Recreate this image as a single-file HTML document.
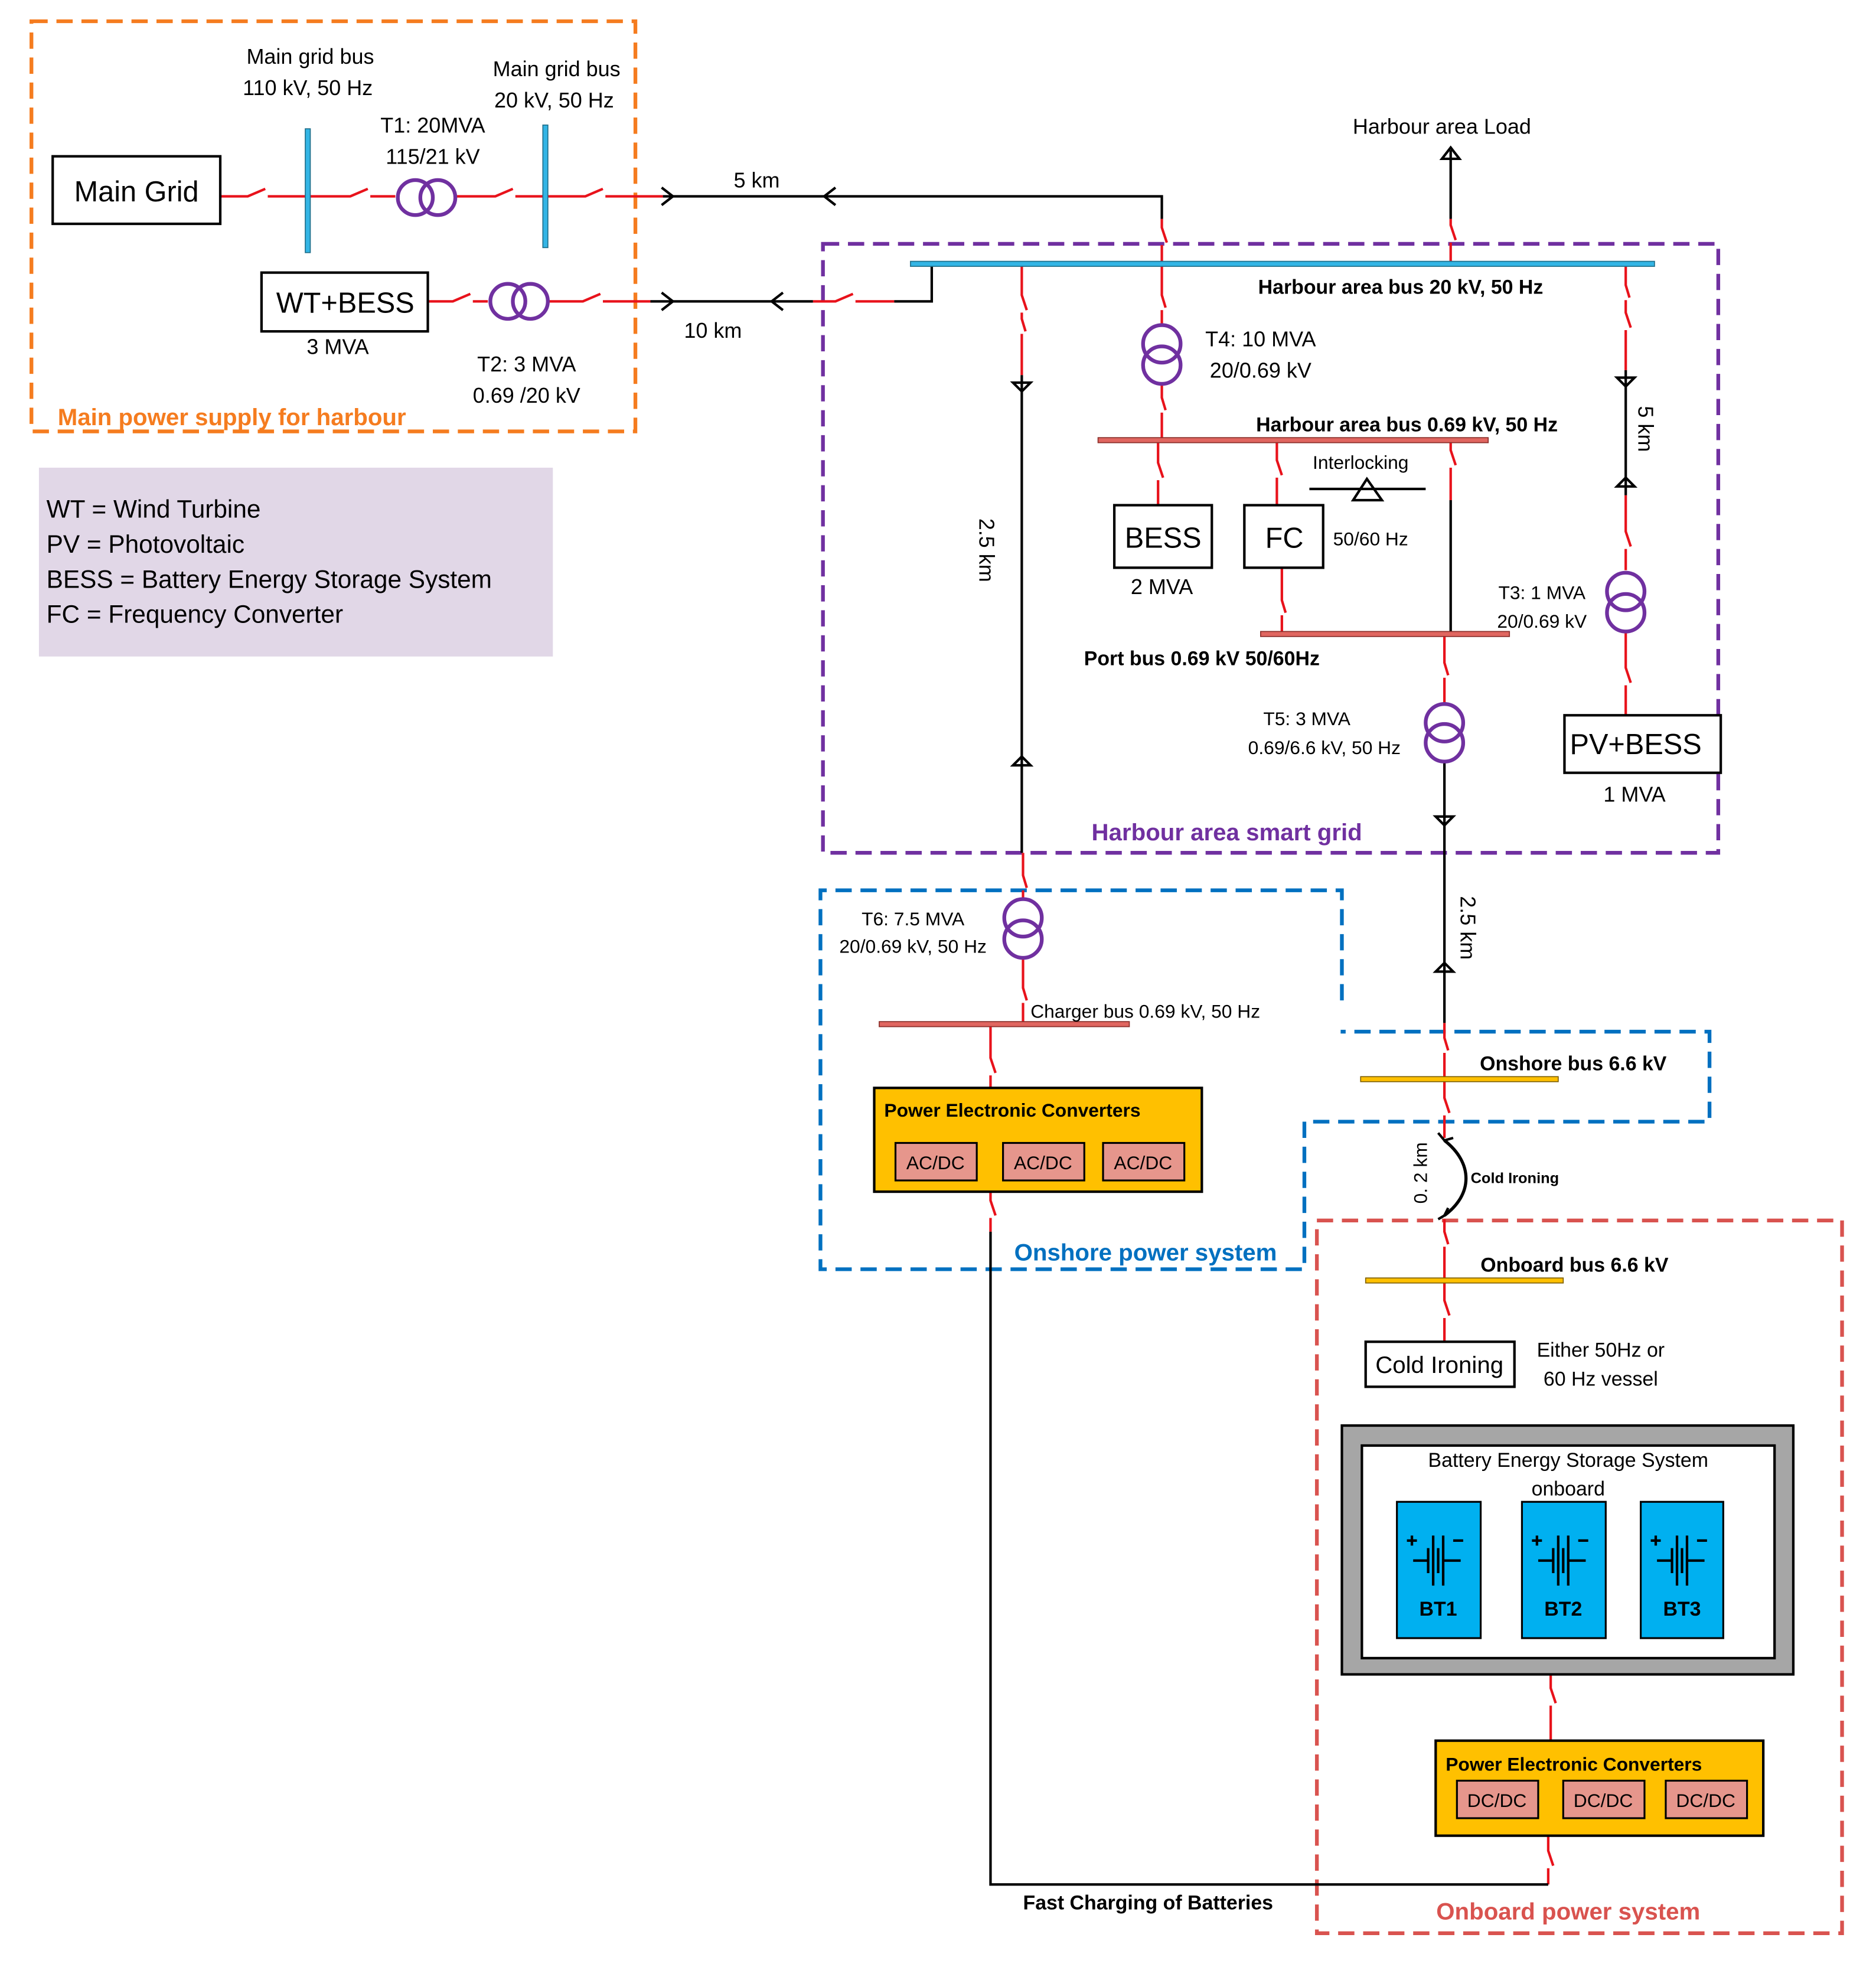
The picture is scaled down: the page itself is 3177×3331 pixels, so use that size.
<!DOCTYPE html>
<html><head><meta charset="utf-8"><style>
html,body{margin:0;padding:0;background:#fff}
svg{display:block}
text{font-family:"Liberation Sans",sans-serif}
</style></head><body>
<svg width="3177" height="3331" viewBox="0 0 1500 1573" xmlns="http://www.w3.org/2000/svg">
<rect width="1500" height="1573" fill="#fff"/>
<g fill="none" stroke-width="3" stroke-dasharray="13,7">
<rect x="25" y="17" width="483" height="328" stroke="#f57c1f"/>
<rect x="658" y="195" width="716" height="487" stroke="#7030a0"/>
<path d="M1073 800 V712 H656 V1015 H1043 V897 H1367 V825 H1072" stroke="#0070c0"/>
<rect x="1053" y="976" width="420" height="570" stroke="#d9534f"/>
</g>
<rect x="31" y="374" width="411" height="151" fill="#e1d7e7"/>
<g font-size="20" fill="#000">
<text x="37" y="414">WT = Wind Turbine</text>
<text x="37" y="442">PV = Photovoltaic</text>
<text x="37" y="470">BESS = Battery Energy Storage System</text>
<text x="37" y="498">FC = Frequency Converter</text>
</g>
<g stroke="#e8121b" stroke-width="2" fill="none">
<path d="M176 157 H198 l14 -6 M214 157 H280 l14 -6 M296 157 H316 M365 157 H396 l14 -6 M412 157 H468 l14 -6 M484 157 H530"/>
<path d="M342 241 H362 l14 -6 M378 241 H390 M438 241 H466 l14 -6 M482 241 H520"/>
<path d="M650 241 H668 l14 -6 M684 241 H715"/>
<path d="M929 175 V182 l4 12 M929 196 V211 V236 l3 10 M929 248 V260"/>
<path d="M929 307 V318 l3 10 M929 330 V352"/>
<path d="M1160 175 V180 l4 12 M1160 194 V211"/>
<path d="M817 211 V236 l4 12 M817 250 V255 l3 10 M817 267 V300"/>
<path d="M926 352 V370 l4 12 M926 384 V404"/>
<path d="M1021 352 V368 l4 12 M1021 382 V404"/>
<path d="M1025 454 V480 l3 10 M1025 492 V507"/>
<path d="M1160 352 V360 l4 12 M1160 374 V400"/>
<path d="M1155 507 V530 l3 10 M1155 542 V563"/>
<path d="M1300 211 V228 l3 10 M1300 240 V250 l4 12 M1300 264 V296"/>
<path d="M1300 396 V425 l4 12 M1300 439 V456"/>
<path d="M1300 506 V534 l4 12 M1300 548 V572"/>
<path d="M818 682 V700 l3 10 M818 712 V718"/>
<path d="M818 767 V790 l3 10 M818 802 V819"/>
<path d="M792 819 V846 l4 12 M792 860 V870"/>
<path d="M792 953 V960 l4 12 M792 974 V985"/>
<path d="M1155 818 V830 l3 10 M1155 842 V863 V878 l4 12 M1155 892 V910"/>
<path d="M1155 975 V985 l3 10 M1155 997 V1024 V1040 l4 12 M1155 1054 V1073"/>
<path d="M1240 1339 V1350 l4 12 M1240 1364 V1392"/>
<path d="M1238 1468 V1480 l4 12 M1238 1494 V1507"/>
</g>
<g stroke="#000" stroke-width="2" fill="none">
<path d="M530 157 H929 V175"/>
<path d="M520 241 H650 M715 241 H745 V211"/>
<path d="M1160 175 V120"/>
<path d="M817 300 V682"/>
<path d="M1160 400 V507"/>
<path d="M1155 610 V818"/>
<path d="M1300 296 V396"/>
<path d="M792 985 V1507 H1238"/>
<path d="M1047 391 H1140"/>
<path d="M1082 400 L1093 383 L1105 400 Z"/>
<path d="M529 150 L538 157 L529 164 M529 234 L538 241 L529 248"/>
<path d="M668 150 L659 157 L668 164 M626 234 L617 241 L626 248"/>
<path d="M1153 127 L1160 118 L1167 127 Z"/>
<path d="M810 306 L817 313 L824 306 Z M810 612 L817 605 L824 612 Z"/>
<path d="M1293 302 L1300 309 L1307 302 Z M1293 389 L1300 382 L1307 389 Z"/>
<path d="M1148 653 L1155 660 L1162 653 Z M1148 777 L1155 770 L1162 777 Z"/>
<path d="M1155 912 C1178 930 1178 955 1155 972" stroke-width="2.5"/>
<path d="M1150 906 L1155 912 L1162 910 M1150 975 L1155 972 L1158 966"/>
</g>
<g fill="#33b5e5" stroke="#1f6f8b" stroke-width="0.8">
<rect x="244" y="103" width="4" height="99"/>
<rect x="434" y="100" width="4" height="98"/>
<rect x="728" y="209" width="595" height="4"/>
</g>
<g fill="#e06660" stroke="#8b2e2a" stroke-width="0.8">
<rect x="878" y="350" width="312" height="4"/>
<rect x="1008" y="505" width="199" height="4"/>
<rect x="703" y="817" width="200" height="4"/>
</g>
<g fill="#ffc000" stroke="#7f6000" stroke-width="0.8">
<rect x="1088" y="861" width="158" height="4"/>
<rect x="1092" y="1022" width="158" height="4"/>
</g>
<g fill="none" stroke="#7030a0" stroke-width="3">
<circle cx="332" cy="158" r="14"/><circle cx="350" cy="158" r="14"/>
<circle cx="406" cy="241" r="14"/><circle cx="424" cy="241" r="14"/>
<circle cx="929" cy="275" r="15"/><circle cx="929" cy="292" r="15"/>
<circle cx="1155" cy="578" r="15"/><circle cx="1155" cy="594" r="15"/>
<circle cx="1300" cy="473" r="15"/><circle cx="1300" cy="490" r="15"/>
<circle cx="818" cy="734" r="15"/><circle cx="818" cy="751" r="15"/>
</g>
<g fill="#fff" stroke="#000" stroke-width="2">
<rect x="42" y="125" width="134" height="54"/>
<rect x="209" y="218" width="133" height="47"/>
<rect x="891" y="404" width="78" height="50"/>
<rect x="995" y="404" width="63" height="50"/>
<rect x="1251" y="572" width="125" height="46"/>
<rect x="1092" y="1073" width="119" height="36"/>
</g>
<rect x="699" y="870" width="262" height="83" fill="#ffc000" stroke="#000" stroke-width="2"/>
<rect x="1148" y="1392" width="262" height="76" fill="#ffc000" stroke="#000" stroke-width="2"/>
<g fill="#e6968c" stroke="#000" stroke-width="1.5">
<rect x="716" y="914" width="65" height="30"/><rect x="802" y="914" width="65" height="30"/><rect x="882" y="914" width="65" height="30"/>
<rect x="1165" y="1424" width="65" height="30"/><rect x="1250" y="1424" width="65" height="30"/><rect x="1332" y="1424" width="65" height="30"/>
</g>
<rect x="1073" y="1140" width="361" height="199" fill="#a6a6a6" stroke="#000" stroke-width="2"/>
<rect x="1089" y="1156" width="330" height="170" fill="#fff" stroke="#000" stroke-width="2"/>
<g fill="#00b0f0" stroke="#000" stroke-width="1.5">
<rect x="1117" y="1201" width="67" height="109"/><rect x="1217" y="1201" width="67" height="109"/><rect x="1312" y="1201" width="66" height="109"/>
</g>
<g stroke="#000" stroke-width="2" fill="none">
<path d="M1130 1248 H1142 M1142 1238 V1258 M1146 1228 V1268 M1150 1238 V1258 M1154 1228 V1268 M1154 1248 H1168 M1125 1232 H1133 M1129 1228 V1236 M1162 1232 H1170"/>
<path d="M1230 1248 H1242 M1242 1238 V1258 M1246 1228 V1268 M1250 1238 V1258 M1254 1228 V1268 M1254 1248 H1268 M1225 1232 H1233 M1229 1228 V1236 M1262 1232 H1270"/>
<path d="M1325 1248 H1337 M1337 1238 V1258 M1341 1228 V1268 M1345 1238 V1258 M1349 1228 V1268 M1349 1248 H1363 M1320 1232 H1328 M1324 1228 V1236 M1357 1232 H1365"/>
</g>
<g font-size="16" font-weight="bold" text-anchor="middle">
<text x="1150" y="1292">BT1</text><text x="1250" y="1292">BT2</text><text x="1345" y="1292">BT3</text>
</g>
<g font-size="23" text-anchor="middle">
<text x="109" y="161">Main Grid</text>
<text x="276" y="250">WT+BESS</text>
<text x="930" y="438">BESS</text>
<text x="1027" y="438">FC</text>
<text x="1308" y="603">PV+BESS</text>
</g>
<g font-size="17" text-anchor="middle">
<text x="248" y="51">Main grid bus</text><text x="246" y="76">110 kV, 50 Hz</text>
<text x="346" y="106">T1: 20MVA</text><text x="346" y="131">115/21 kV</text>
<text x="445" y="61">Main grid bus</text><text x="443" y="86">20 kV, 50 Hz</text>
<text x="270" y="283">3 MVA</text>
<text x="421" y="297">T2: 3 MVA</text><text x="421" y="322">0.69 /20 kV</text>
<text x="605" y="150">5 km</text><text x="570" y="270">10 km</text>
<text x="1153" y="107">Harbour area Load</text>
<text x="1008" y="277">T4: 10 MVA</text><text x="1008" y="302">20/0.69 kV</text>
<text x="929" y="475">2 MVA</text><text x="1307" y="641">1 MVA</text>
<text x="1151" y="1098" font-size="19">Cold Ironing</text>
<text x="1280" y="1085" font-size="16">Either 50Hz or</text><text x="1280" y="1108" font-size="16">60 Hz vessel</text>
<text x="1254" y="1173" font-size="16">Battery Energy Storage System</text><text x="1254" y="1196" font-size="16">onboard</text>
</g>
<g font-size="15" text-anchor="middle">
<text x="1088" y="375">Interlocking</text>
<text x="1096" y="436">50/60 Hz</text>
<text x="1233" y="479">T3: 1 MVA</text><text x="1233" y="502">20/0.69 kV</text>
<text x="1045" y="580">T5: 3 MVA</text><text x="1059" y="603">0.69/6.6  kV, 50 Hz</text>
<text x="730" y="740">T6: 7.5 MVA</text><text x="730" y="762">20/0.69 kV, 50 Hz</text>
<text x="748" y="935" font-size="15">AC/DC</text><text x="834" y="935">AC/DC</text><text x="914" y="935">AC/DC</text>
<text x="1197" y="1445">DC/DC</text><text x="1282" y="1445">DC/DC</text><text x="1364" y="1445">DC/DC</text>
</g>
<text x="824" y="814" font-size="15">Charger bus 0.69 kV, 50 Hz</text>
<g font-size="16" font-weight="bold">
<text x="1120" y="235" text-anchor="middle">Harbour area bus 20 kV, 50 Hz</text>
<text x="1125" y="345" text-anchor="middle">Harbour area bus  0.69 kV, 50 Hz</text>
<text x="961" y="532" text-anchor="middle">Port bus 0.69 kV 50/60Hz</text>
<text x="1258" y="856" text-anchor="middle">Onshore bus 6.6  kV</text>
<text x="1259" y="1017" text-anchor="middle">Onboard bus 6.6  kV</text>
<text x="918" y="1527" text-anchor="middle">Fast Charging of  Batteries</text>
<text x="707" y="893" font-size="15">Power Electronic Converters</text>
<text x="1156" y="1416" font-size="15">Power Electronic Converters</text>
<text x="1176" y="946" font-size="12">Cold Ironing</text>
</g>
<g font-size="17">
<text transform="translate(783,440) rotate(90)" text-anchor="middle">2.5 km</text>
<text transform="translate(1168,742) rotate(90)" text-anchor="middle">2.5 km</text>
<text transform="translate(1310,343) rotate(90)" text-anchor="middle">5 km</text>
<text transform="translate(1141,938) rotate(-90)" text-anchor="middle" font-size="15">0. 2 km</text>
</g>
<g font-size="19" font-weight="bold">
<text x="46" y="340" fill="#f57c1f">Main power supply for harbour</text>
<text x="981" y="672" fill="#7030a0" text-anchor="middle">Harbour area smart grid</text>
<text x="916" y="1008" fill="#0070c0" text-anchor="middle">Onshore power system</text>
<text x="1254" y="1535" fill="#d9534f" text-anchor="middle">Onboard power system</text>
</g>
</svg>
</body></html>
